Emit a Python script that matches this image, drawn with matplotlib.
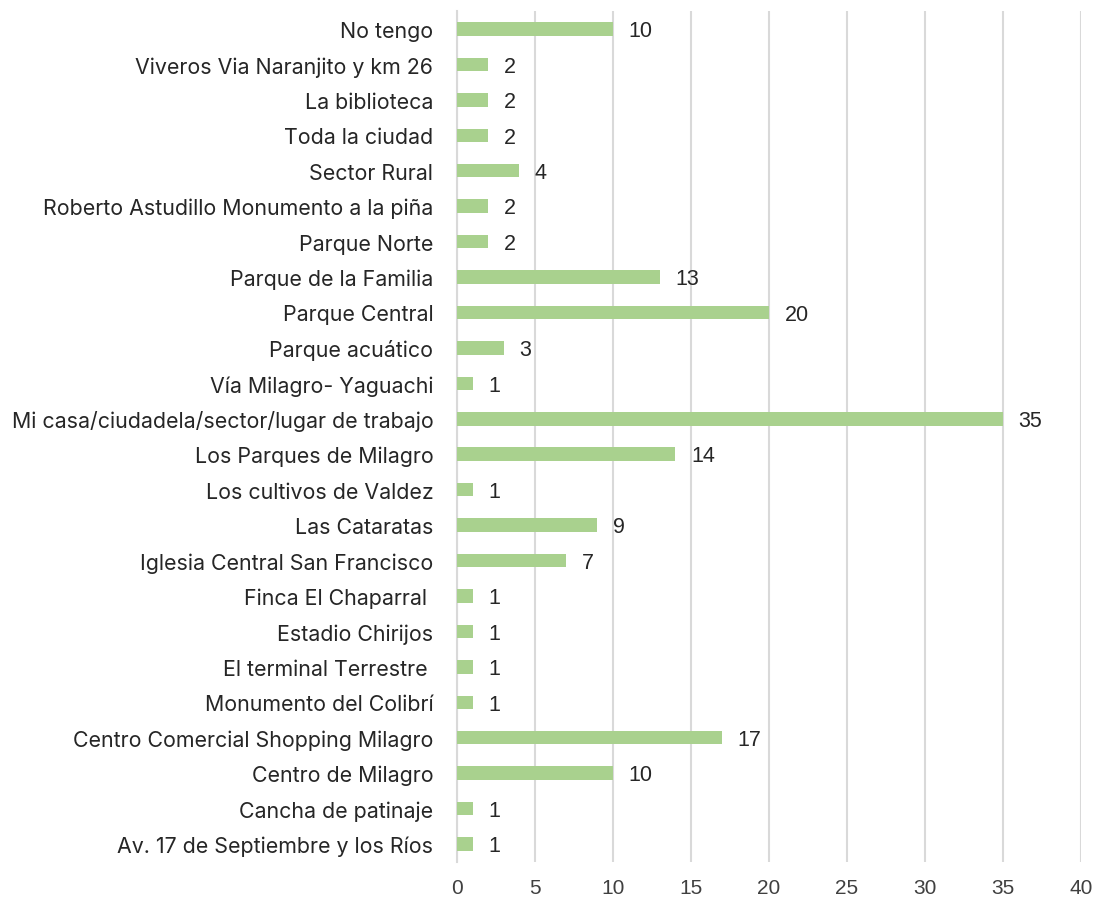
import matplotlib
matplotlib.use('Agg')
import matplotlib.pyplot as plt
from matplotlib.ticker import MultipleLocator

plt.rcParams['font.family'] = ['Inter', 'DejaVu Sans']
num_font = ['Liberation Sans', 'DejaVu Sans']

# lugares, listed top to bottom
lugares = [
    'No tengo',
    'Viveros Via Naranjito y km 26',
    'La biblioteca',
    'Toda la ciudad',
    'Sector Rural',
    'Roberto Astudillo Monumento a la piña',
    'Parque Norte',
    'Parque de la Familia',
    'Parque Central',
    'Parque acuático',
    'Vía Milagro- Yaguachi',
    'Mi casa/ciudadela/sector/lugar de trabajo',
    'Los Parques de Milagro',
    'Los cultivos de Valdez',
    'Las Cataratas',
    'Iglesia Central San Francisco',
    'Finca El Chaparral ',
    'Estadio Chirijos',
    'El terminal Terrestre ',
    'Monumento del Colibrí',
    'Centro Comercial Shopping Milagro',
    'Centro de Milagro',
    'Cancha de patinaje',
    'Av. 17 de Septiembre y los Ríos',
]
respuestas = [10, 2, 2, 2, 4, 2, 2, 13, 20, 3, 1, 35, 14, 1, 9, 7, 1, 1, 1, 1, 17, 10, 1, 1]

fig = plt.figure(figsize=(10.99, 9.03), dpi=100)
ax = fig.add_axes([0.4158, 0.0446, 0.5678, 0.9418])

y = list(range(len(lugares)))
ax.barh(y, respuestas, height=0.38, color='#A9D18E', zorder=3)
for yi, v in zip(y, respuestas):
    ax.text(v + 1.0, yi + 0.05, str(v), va='center', ha='left', fontsize=15.5,
            color='#262626', family=num_font)

ax.set_yticks(y)
ax.set_yticklabels(lugares, fontsize=15.4, color='#262626')
ax.set_ylim(len(lugares) - 0.5, -0.5)
ax.set_xlim(0, 40)
ax.xaxis.set_major_locator(MultipleLocator(5))
ax.tick_params(axis='x', labelsize=15, colors='#404040', length=0, pad=12)
for t in ax.get_xticklabels():
    t.set_family(num_font)
ax.tick_params(axis='y', length=0, pad=17)
ax.grid(axis='x', color='#D9D9D9', linewidth=1.5, zorder=0)
for s in ['top', 'right', 'bottom']:
    ax.spines[s].set_visible(False)
ax.spines['left'].set_color('#D9D9D9')
ax.spines['left'].set_linewidth(1.5)

fig.savefig('out.png', dpi=100)
